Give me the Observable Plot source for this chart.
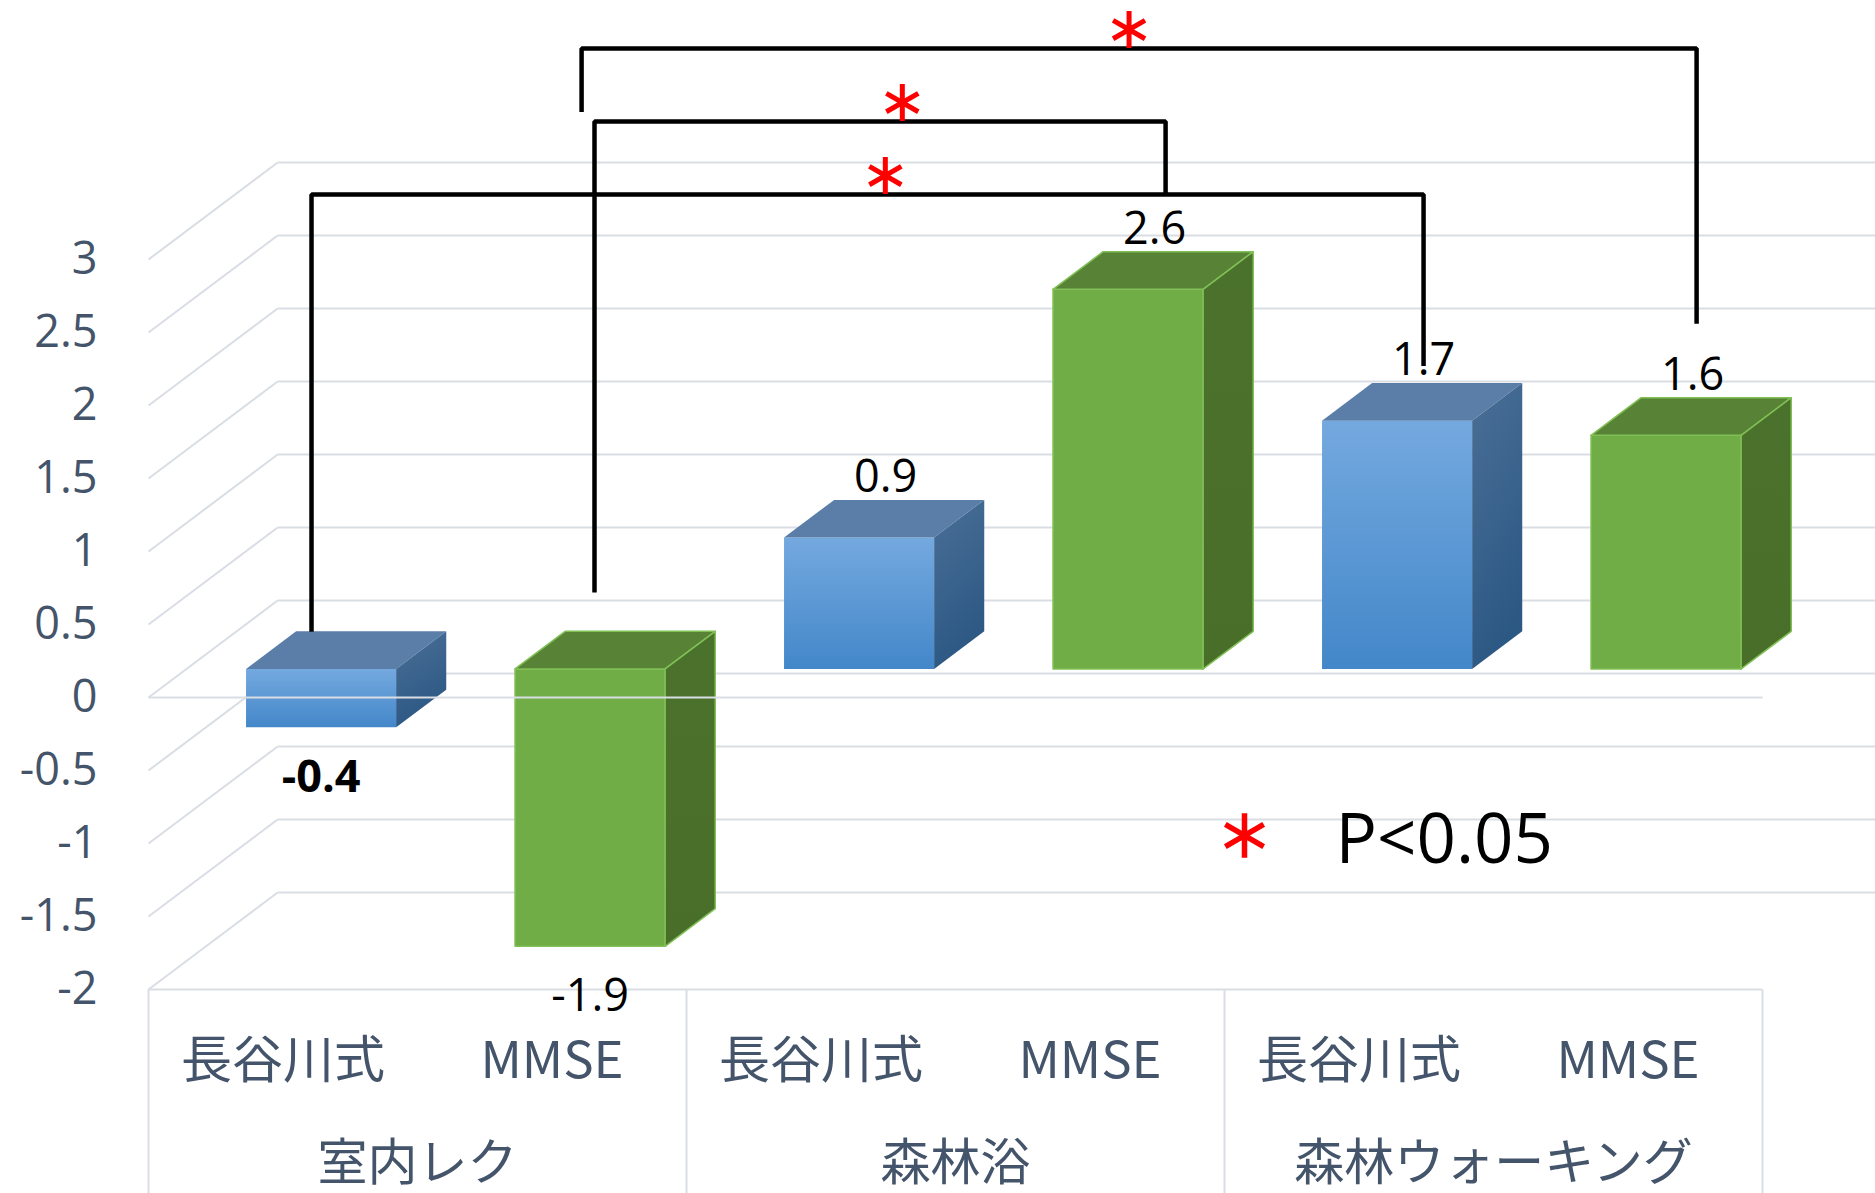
<!DOCTYPE html>
<html>
<head>
<meta charset="utf-8">
<script src="https://cdn.jsdelivr.net/npm/d3@7"></script>
<script src="https://cdn.jsdelivr.net/npm/@observablehq/plot@0.6"></script>
<style>
  html, body { margin: 0; padding: 0; background: #ffffff; }
  #chart svg { display: block; }
</style>
</head>
<body>
<div id="chart"></div>
<script>
// Change in cognitive test scores after each activity
const groups = ["室内レク", "森林浴", "森林ウォーキング"];
const measures = ["長谷川式", "MMSE"];
const hasegawaChange = [-0.4, 0.9, 1.7];
const mmseChange = [-1.9, 2.6, 1.6];
const yTicks = [-2, -1.5, -1, -0.5, 0, 0.5, 1, 1.5, 2, 2.5, 3];

// Pairs that differ significantly (P<0.05): [group, measure] vs [group, measure]
const comparisons = [
  [["室内レク", "長谷川式"], ["森林ウォーキング", "長谷川式"]],
  [["室内レク", "MMSE"], ["森林浴", "MMSE"]],
  [["室内レク", "MMSE"], ["森林ウォーキング", "MMSE"]]
];
const significanceLabel = "P<0.05";
const boldValueLabels = [["室内レク", "長谷川式"]];

// ---- 3D column geometry (x in category slots, y in score units) ----
const DEPTH_X = 0.48;     // horizontal shift of the full floor depth
const DEPTH_Y = 0.664;    // vertical shift of the full floor depth
const BAR_HALF = 0.279;   // half width of a column face
const BAR_D0 = 0.295;     // depth of the column front face
const BAR_D1 = 0.683;     // depth of the column back face
const proj = (x, v, d) => ({x: x + d * DEPTH_X, y: v + d * DEPTH_Y});

const bars = groups.flatMap((group, gi) => measures.map((measure, mi) => ({
  group, measure,
  value: mi === 0 ? hasegawaChange[gi] : mmseChange[gi],
  slot: gi * measures.length + mi + 0.5,
  tone: mi === 0 ? "blue" : "green"
})));
const slotOf = ([g, m]) => bars.find(b => b.group === g && b.measure === m).slot;
const isBold = b => boldValueLabels.some(([g, m]) => g === b.group && m === b.measure);

// Polygon vertices for the front, top and side faces of each column
const faces = [];
bars.forEach((b, i) => {
  const lo = Math.min(0, b.value), hi = Math.max(0, b.value);
  const L = b.slot - BAR_HALF, R = b.slot + BAR_HALF;
  const face = (name, pts) => pts.concat([pts[0]]).forEach(([x, v, d]) =>
    faces.push({id: `${i}-${name}`, ...proj(x, v, d),
      fill: `url(#${b.tone}-${name})`,
      stroke: b.tone === "green" ? "#80c055" : "none"}));
  face("front", [[L, lo, BAR_D0], [R, lo, BAR_D0], [R, hi, BAR_D0], [L, hi, BAR_D0]]);
  face("top",   [[L, hi, BAR_D0], [R, hi, BAR_D0], [R, hi, BAR_D1], [L, hi, BAR_D1]]);
  face("side",  [[R, lo, BAR_D0], [R, lo, BAR_D1], [R, hi, BAR_D1], [R, hi, BAR_D0]]);
});

// Value labels: above the top face for gains, below the front face for losses
const valueLabels = bars.map(b => {
  const p = b.value >= 0 ? proj(b.slot, b.value, 0.5) : proj(b.slot, b.value, BAR_D0);
  return {...p, text: String(b.value), up: b.value >= 0, bold: isBold(b)};
});

// Bracket layout: leg offsets from the column centre, bar level and leg ends (score units)
const bracketLayout = [
  {fromDx: 0.106, toDx: 0.240, level: 3.445, fromEnd: 0.45, toEnd: 2.27, star: 0.516},
  {fromDx: 0.158, toDx: 0.281, level: 3.945, fromEnd: 0.72, toEnd: 3.445, star: 0.539},
  {fromDx: 0.110, toDx: 0.255, level: 4.445, fromEnd: 4.01, toEnd: 2.56, star: 0.491}
];
const bracketPts = [], stars = [];
comparisons.forEach(([a, b], k) => {
  const L = bracketLayout[k];
  const x1 = slotOf(a) + L.fromDx, x2 = slotOf(b) + L.toDx;
  [[x1, L.fromEnd], [x1, L.level], [x2, L.level], [x2, L.toEnd]]
    .forEach(([x, y]) => bracketPts.push({id: k, x, y}));
  stars.push({x: x1 + L.star * (x2 - x1), y: L.level});
});

const grid = "#d9dde4";
const axisInk = "#44546a";
const latin = "'Open Sans', 'Noto Sans', sans-serif";
const cjk = "'Noto Sans CJK JP', 'Noto Sans', sans-serif";
const nSlots = bars.length;

const svg = Plot.plot({
  width: 1875,
  height: 1193,
  marginLeft: 148,
  marginRight: 113,
  marginTop: 259,
  marginBottom: 204,
  x: {domain: [0, nSlots], axis: null},
  y: {domain: [-2, 3], axis: null},
  color: {type: "identity"},
  style: {background: "#ffffff", fontFamily: latin, overflow: "visible"},
  marks: [
    // back wall gridlines
    Plot.link(yTicks, {x1: () => DEPTH_X, x2: () => nSlots + DEPTH_X,
      y1: d => d + DEPTH_Y, y2: d => d + DEPTH_Y, stroke: grid, strokeWidth: 2}),
    // side wall gridlines
    Plot.link(yTicks, {x1: () => 0, x2: () => DEPTH_X,
      y1: d => d, y2: d => d + DEPTH_Y, stroke: grid, strokeWidth: 2}),
    // floor front edge and category table
    Plot.link([-2], {x1: () => 0, x2: () => nSlots, y1: d => d, y2: d => d, stroke: grid, strokeWidth: 2}),
    Plot.link([0, 2, 4, 6], {x1: d => d, x2: d => d, y1: () => -2, y2: () => -3.6, stroke: grid, strokeWidth: 2}),
    // columns
    Plot.line(faces, {x: "x", y: "y", z: "id", fill: "fill", stroke: "stroke",
      strokeWidth: 1.5, strokeLinejoin: "round"}),
    // zero line in front of the columns
    Plot.link([0], {x1: () => 0, x2: () => nSlots, y1: d => d, y2: d => d, stroke: grid, strokeWidth: 2}),
    // y tick labels
    Plot.text(yTicks, {y: d => d, text: d => String(d), frameAnchor: "left", dx: -51,
      textAnchor: "end", lineAnchor: "middle", fontSize: 45, fill: axisInk, fontFamily: latin}),
    // category labels
    Plot.text(bars, {x: "slot", text: "measure", frameAnchor: "bottom", dy: 72, lineAnchor: "middle",
      fontSize: 51, fill: axisInk, fontFamily: cjk}),
    Plot.text(groups, {x: (d, i) => i * measures.length + measures.length / 2, text: d => d,
      frameAnchor: "bottom", dy: 174, lineAnchor: "middle", fontSize: 50, fill: axisInk, fontFamily: cjk}),
    // value labels
    Plot.text(valueLabels.filter(d => !d.bold && d.up), {x: "x", y: "y", text: "text",
      dy: -40, fontSize: 45, fill: "#000000", fontFamily: latin}),
    Plot.text(valueLabels.filter(d => !d.bold && !d.up), {x: "x", y: "y", text: "text",
      dy: 50, fontSize: 45, fill: "#000000", fontFamily: latin}),
    Plot.text(valueLabels.filter(d => d.bold), {x: "x", y: "y", text: "text",
      dy: 50, fontSize: 45, fontWeight: "bold", fill: "#000000", fontFamily: latin}),
    // significance brackets
    Plot.line(bracketPts, {x: "x", y: "y", z: "id", stroke: "#000000", strokeWidth: 4.5,
      strokeLinejoin: "miter", strokeLinecap: "butt"}),
    Plot.dot(stars, {x: "x", y: "y", dy: -19, symbol: "asterisk", r: 17.5,
      stroke: "#ff0000", strokeWidth: 5}),
    // key
    Plot.dot([significanceLabel], {frameAnchor: "bottom-right", dx: -518, dy: -154,
      symbol: "asterisk", r: 21, stroke: "#ff0000", strokeWidth: 5.5}),
    Plot.text([significanceLabel], {text: d => d, frameAnchor: "bottom-right", dx: -427, dy: -149,
      textAnchor: "start", lineAnchor: "middle", fontSize: 69, fill: "#000000", fontFamily: latin})
  ]
});

// Face shading for the columns
const defs = d3.select(svg).insert("defs", ":first-child");
const shade = (id, stops, x2 = 0, y2 = 1) => {
  const g = defs.append("linearGradient").attr("id", id)
    .attr("x1", 0).attr("y1", 0).attr("x2", x2).attr("y2", y2);
  stops.forEach(([o, c]) => g.append("stop").attr("offset", o).attr("stop-color", c));
};
shade("blue-front", [[0, "#74a9df"], [1, "#4387c9"]]);
shade("blue-side", [[0, "#4a6f96"], [1, "#2c5884"]], 0.3, 1);
shade("blue-top", [[0, "#5a7ea8"], [1, "#5a7ea8"]]);
shade("green-front", [[0, "#70ad47"], [1, "#70ad47"]]);
shade("green-side", [[0, "#4b722c"], [1, "#496e29"]]);
shade("green-top", [[0, "#588336"], [1, "#588336"]]);

document.getElementById("chart").appendChild(svg);
</script>
</body>
</html>
